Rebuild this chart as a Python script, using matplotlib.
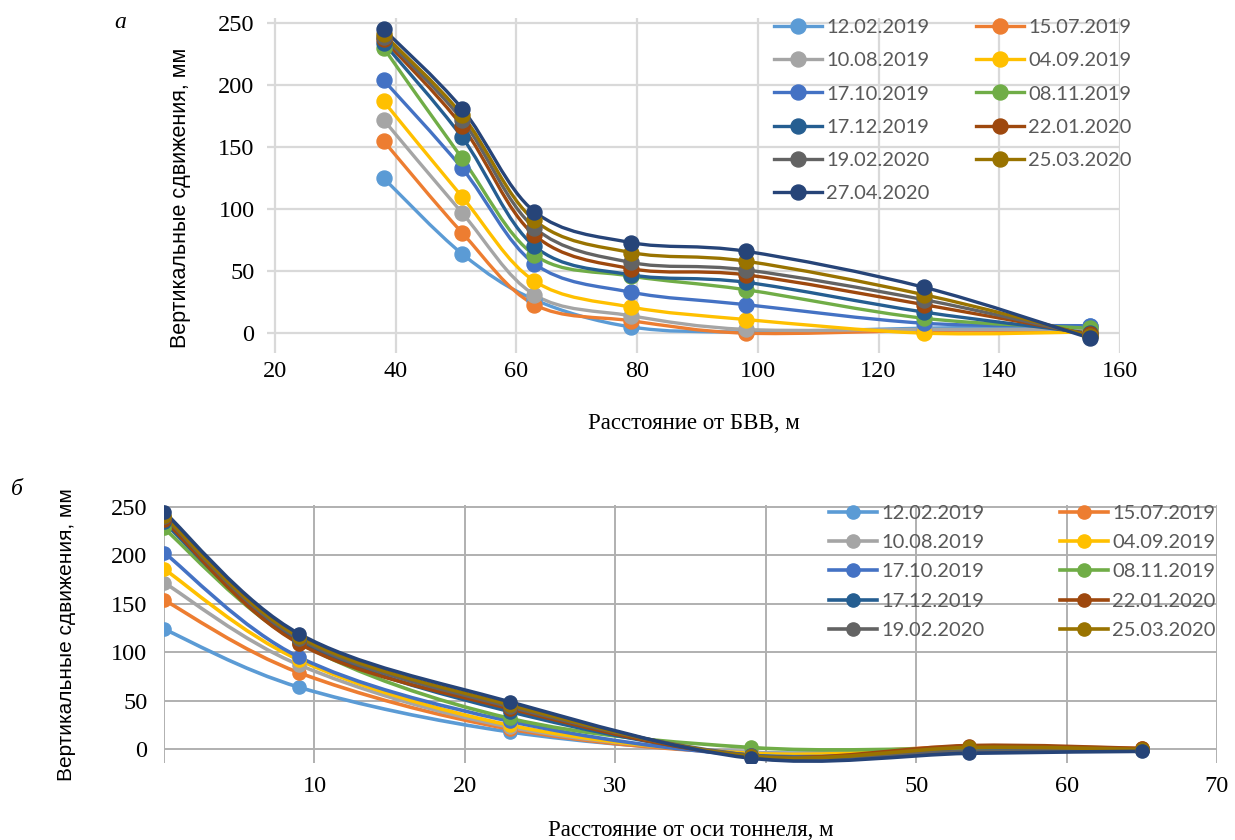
import numpy as np
import matplotlib
matplotlib.use('Agg')
import matplotlib.pyplot as plt
from matplotlib.path import Path
from matplotlib.patches import PathPatch
from matplotlib.lines import Line2D

# series names and Excel colours
dates = ['12.02.2019', '15.07.2019', '10.08.2019', '04.09.2019', '17.10.2019',
         '08.11.2019', '17.12.2019', '22.01.2020', '19.02.2020', '25.03.2020',
         '27.04.2020']
colors = ['#5B9BD5', '#ED7D31', '#A5A5A5', '#FFC000', '#4472C4', '#70AD47',
          '#255E91', '#9E480E', '#636363', '#997300', '#264478']

# panel a: distance from BVV, m
x_bvv = [38, 51, 63, 79, 98, 127.5, 155]
a_vals = [
    [125, 64, 27, 5, 1, 4, 6],
    [155, 81, 23, 10, 0, 2, 2],
    [172, 97, 31, 14, 3, 3, 3],
    [187, 110, 42, 21, 11, 0, 1],
    [204, 133, 56, 33, 23, 8, 6],
    [230, 141, 63, 46, 35, 12, 4],
    [234, 158, 70, 47, 41, 17, 0],
    [237, 167, 79, 52, 47, 23, -1],
    [239, 172, 85, 57, 51, 27, -2],
    [241, 176, 91, 65, 58, 31, -2],
    [245, 181, 98, 73, 66, 37, -4],
]

# panel b: distance from tunnel axis, m
x_axis = [0, 9, 23, 39, 53.5, 65]
b_vals = [
    [124, 64, 18, -3, 0, 0],
    [154, 79, 21, -4, 3, 1],
    [172, 87, 23, -3, 1, 0],
    [186, 92, 25, -4, 1, 0],
    [203, 95, 29, -6, -1, -1],
    [228, 110, 32, 2, 1, 0],
    [234, 112, 39, -6, -2, -1],
    [237, 109, 42, -7, 4, 1],
    [240, 114, 44, -6, -2, -1],
    [241, 116, 46, -7, 2, 0],
    [245, 119, 49, -9, -4, -2],
]
b_legend_n = 10  # last series is cut off the legend in the source

SERIF = 'Liberation Serif'
SANS = 'Liberation Sans'
LEG = 'Lato'


def smooth_path(xs, ys):
    # Excel-like smoothed line (Catmull-Rom as cubic Bezier)
    pts = np.column_stack([xs, ys]).astype(float)
    p = np.vstack([pts[0], pts, pts[-1]])
    verts = [pts[0]]
    codes = [Path.MOVETO]
    for i in range(len(pts) - 1):
        p0, p1, p2, p3 = p[i], p[i + 1], p[i + 2], p[i + 3]
        verts += [p1 + (p2 - p0) / 6, p2 - (p3 - p1) / 6, p2]
        codes += [Path.CURVE4] * 3
    return Path(verts, codes)


def draw_panel(ax, xs, vals, lw, ms, n_leg, leg_anchor, labelspacing, colspacing):
    handles = []
    for i, (name, c, ys) in enumerate(zip(dates, colors, vals)):
        ax.add_patch(PathPatch(smooth_path(xs, ys), fill=False, edgecolor=c,
                               lw=lw, capstyle='round', joinstyle='round',
                               zorder=2 + i * 0.01))
        ax.plot(xs, ys, 'o', color=c, ms=ms, zorder=3 + i * 0.01)
        if i < n_leg:
            handles.append(Line2D([], [], color=c, lw=lw, marker='o', ms=ms,
                                  label=name))
    # legend fills row by row in the source, matplotlib fills by column
    handles = handles[0::2] + handles[1::2]
    ax.legend(handles=handles, ncol=2, frameon=False, loc='upper left',
              bbox_to_anchor=leg_anchor, bbox_transform=fig.transFigure,
              prop={'family': LEG, 'size': 14.5}, labelcolor='#595959',
              handlelength=2.4, handletextpad=0.2, columnspacing=colspacing,
              labelspacing=labelspacing, borderpad=0, borderaxespad=0)
    for s in ax.spines.values():
        s.set_visible(False)
    ax.tick_params(length=0, labelsize=17.5)
    for lab in ax.get_xticklabels() + ax.get_yticklabels():
        lab.set_family(SERIF)


fig = plt.figure(figsize=(12.35, 8.4), dpi=100)
W, H = 1235, 840

# ---- panel a ----
ax1 = fig.add_axes([267 / W, 1 - 353 / H, (1120 - 267) / W, (353 - 18) / H])
ax1.set_xlim(18.7, 160)
ax1.set_ylim(-16, 254)
ax1.set_xticks(range(20, 161, 20))
ax1.set_yticks(range(0, 251, 50))
ax1.grid(True, color='#D9D9D9', lw=1.6, zorder=0)
ax1.set_axisbelow(True)
draw_panel(ax1, x_bvv, a_vals, 2.4, 10.8, len(dates), (774 / W, 1 - 19 / H), 0.8, 2.3)
ax1.tick_params(axis='y', pad=9)
ax1.tick_params(axis='x', pad=6)
ax1.set_xlabel('Расстояние от БВВ, м', family=SERIF, fontsize=16.5, labelpad=22)
ax1.set_ylabel('Вертикальные сдвижения, мм', family=SANS, fontsize=15.5)
ax1.yaxis.set_label_coords((191 - 267) / 853, 1 - (198 - 18) / 335)
fig.text(120 / W, 1 - 22 / H, 'а', family=SERIF, style='italic', fontsize=17,
         ha='center', va='center')

# ---- panel b ----
ax2 = fig.add_axes([164 / W, 1 - 763 / H, (1217 - 164) / W, (763 - 505) / H])
ax2.set_xlim(0, 70)
ax2.set_ylim(-14, 252)
ax2.set_xticks(range(0, 71, 10))
ax2.set_xticklabels([''] + [str(v) for v in range(10, 71, 10)])
ax2.set_yticks(range(0, 251, 50))
ax2.grid(True, color='#B0B0B0', lw=1.4, zorder=0)
ax2.set_axisbelow(True)
draw_panel(ax2, x_axis, b_vals, 2.6, 9.5, b_legend_n, (829 / W, 1 - 505 / H), 0.6, 3.75)
ax2.tick_params(axis='y', pad=12)
ax2.tick_params(axis='x', pad=9)
ax2.set_xlabel('Расстояние от оси тоннеля, м', family=SERIF, fontsize=16.5, labelpad=17)
ax2.set_ylabel('Вертикальные сдвижения, мм', family=SANS, fontsize=15)
ax2.yaxis.set_label_coords((76 - 164) / 1053, 1 - (635 - 505) / 258)
fig.text(17 / W, 1 - 489 / H, 'б', family=SERIF, style='italic', fontsize=17,
         ha='center', va='center')

fig.savefig('out.png', dpi=100)
